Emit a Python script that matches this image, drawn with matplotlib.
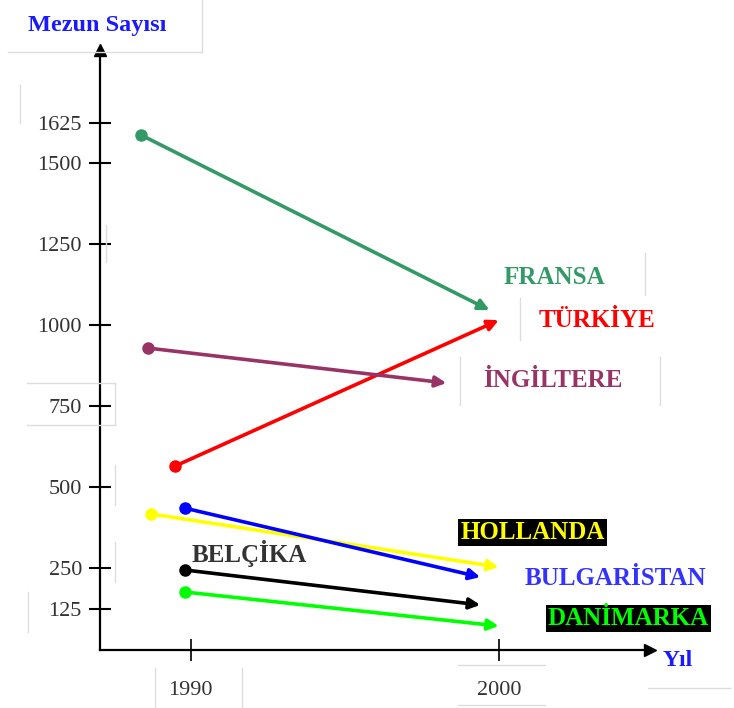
import matplotlib
matplotlib.use("Agg")
import matplotlib.pyplot as plt
from matplotlib.lines import Line2D

# ---- data ----
countries = ["FRANSA", "TÜRKİYE", "İNGİLTERE", "HOLLANDA", "BULGARİSTAN", "BELÇİKA", "DANİMARKA"]
start_year = [1988.4, 1989.5, 1988.6, 1988.7, 1989.8, 1989.8, 1989.8]
start_val = [1586, 565, 929, 417, 435, 244, 176]
end_year = [1999.7, 2000.0, 1998.3, 2000.0, 1999.4, 1999.4, 2000.0]
end_val = [1046, 1015, 821, 253, 222, 136, 71]
label_year = [2001.8, 2003.2, 2001.75, 2001.1, 2003.8, 1991.9, 2004.2]
label_val = [1148, 1015, 830, 361, 219, 296, 93]

yticks = [125, 250, 500, 750, 1000, 1250, 1500, 1625]
xticks = [1990, 2000]

line_colors = ["#339966", "#ff0000", "#993366", "#ffff00", "#0000ff", "#000000", "#00ff00"]
text_colors = ["#339966", "#ff0000", "#993366", "#ffff00", "#3333ff", "#333333", "#00ff00"]
text_bg = [None, None, None, "black", None, None, "black"]

W, H = 734, 708
fig = plt.figure(figsize=(W / 100, H / 100), dpi=100)
serif = "Liberation Serif"

# axes placed so the origin is at pixel (100, 650), arrows end at x=650, y=50
ax = fig.add_axes([100 / W, (H - 650) / H, 550 / W, 600 / H])
ax.set_xlim(1987.055, 2004.91)
ax.set_ylim(-3.1, 1849)
for s in ["top", "right"]:
    ax.spines[s].set_visible(False)
for s in ["left", "bottom"]:
    ax.spines[s].set_linewidth(1.6)
    ax.spines[s].set_color("black")
ax.set_facecolor("none")
ax.plot(1, 0, ">k", ms=8, transform=ax.transAxes, clip_on=False)
ax.plot(0, 1, "^k", ms=8, transform=ax.transAxes, clip_on=False)

ax.set_yticks(yticks)
ax.set_yticklabels([str(v) for v in yticks], fontfamily=serif, fontsize=16, color="#333333")
ax.set_xticks(xticks)
ax.set_xticklabels([str(v) for v in xticks], fontfamily=serif, fontsize=16, color="#333333")
ax.tick_params(axis="y", direction="inout", length=16, width=1.5, pad=5)
ax.tick_params(axis="x", direction="inout", length=16, width=1.2, pad=14)

# series
for i in range(len(countries)):
    c = line_colors[i]
    ax.annotate("", xy=(end_year[i], end_val[i]), xytext=(start_year[i], start_val[i]),
                arrowprops=dict(arrowstyle="-|>", color=c, lw=2.6, mutation_scale=16,
                                shrinkA=0, shrinkB=0))
    ax.plot([start_year[i]], [start_val[i]], "o", color=c, ms=8, clip_on=False)
    kw = dict(ha="center", va="center", fontfamily=serif, fontweight="bold",
              fontsize=18, color=text_colors[i])
    if text_bg[i]:
        kw["bbox"] = dict(facecolor=text_bg[i], edgecolor="none", pad=1.5)
    ax.text(label_year[i], label_val[i], countries[i], clip_on=False, **kw)

# axis titles
fig.text(97 / W, 1 - 25 / H, "Mezun Sayısı", ha="center", va="center",
         fontfamily=serif, fontweight="bold", fontsize=17.5, color="#1a1aff")
fig.text(678 / W, 1 - 661 / H, "Yıl", ha="center", va="center",
         fontfamily=serif, fontweight="bold", fontsize=17, color="#1a1aff")

# faint text-box borders (artifacts in the original)
faint = "#dddddd"
segs = [
    ((8, 52), (202, 52)), ((202, 0), (202, 52)),
    ((20, 85), (20, 123)),
    ((106, 225), (106, 262)),
    ((27, 383), (115, 383)), ((115, 383), (115, 425)), ((27, 425), (115, 425)),
    ((115, 465), (115, 505)),
    ((115, 542), (115, 582)),
    ((28, 592), (28, 632)),
    ((155, 668), (155, 708)), ((242, 668), (242, 708)),
    ((458, 665), (545, 665)), ((458, 705), (545, 705)),
    ((648, 688), (730, 688)),
    ((645, 253), (645, 295)),
    ((520, 298), (520, 340)),
    ((460, 357), (460, 405)), ((660, 357), (660, 405)),
]
for (x0, y0), (x1, y1) in segs:
    fig.add_artist(Line2D([x0 / W, x1 / W], [1 - y0 / H, 1 - y1 / H],
                          color=faint, lw=1, transform=fig.transFigure))

fig.savefig("out.png", dpi=100)
